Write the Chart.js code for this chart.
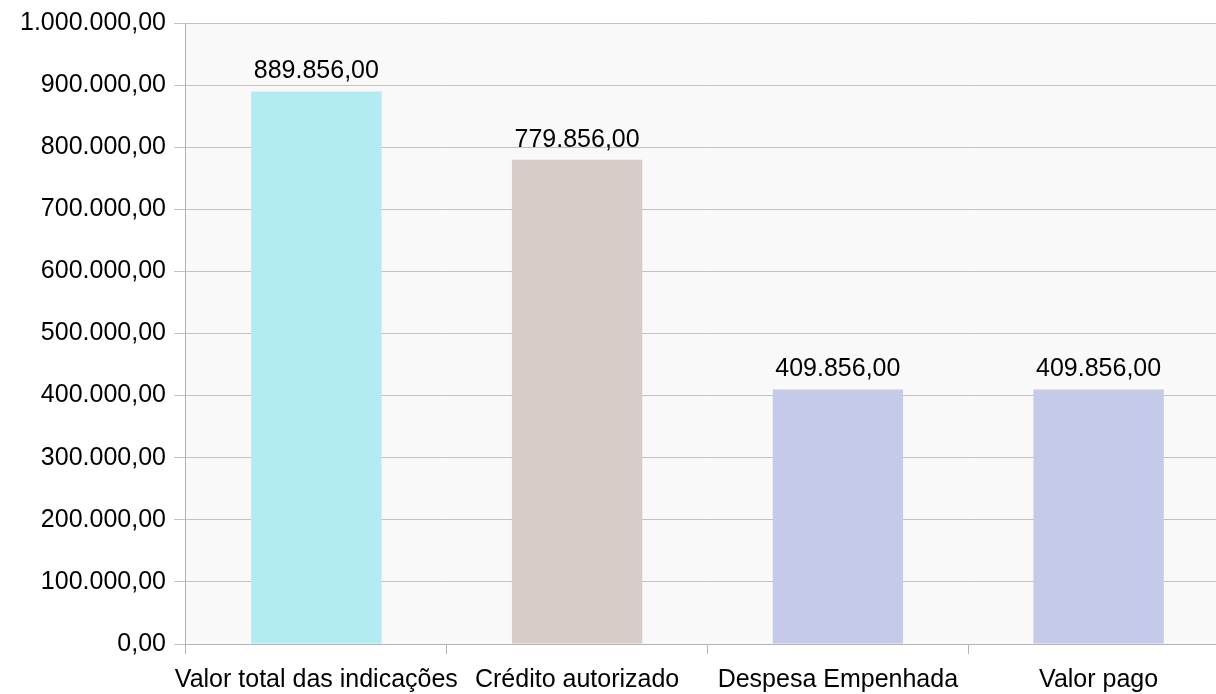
<!DOCTYPE html>
<html>
<head>
<meta charset="utf-8">
<script src="https://cdn.jsdelivr.net/npm/chart.js@4.4.0/dist/chart.umd.min.js"></script>
<style>
  html, body { margin: 0; padding: 0; background: #fff; overflow: hidden; }
  #wrap { position: relative; width: 1230px; height: 707px; }
</style>
</head>
<body>
<div id="wrap"><canvas id="grafico"></canvas></div>
<script>
var categorias = ['Valor total das indicações', 'Crédito autorizado', 'Despesa Empenhada', 'Valor pago'];
var valores = [889856, 779856, 409856, 409856];
var cores = ['#b2ebf2', '#d7ccc8', '#c5cae9', '#c5cae9'];
var eixoMin = 0;
var eixoMax = 1000000;
var eixoPasso = 100000;

// formato brasileiro: 889.856,00
function formatar(v) {
    var partes = Number(v).toFixed(2).split('.');
    var inteiro = partes[0].replace(/\B(?=(\d{3})+(?!\d))/g, '.');
    return inteiro + ',' + partes[1];
}

var fundo = {
    id: 'fundo',
    beforeDraw: function(chart) {
        var a = chart.chartArea;
        var ctx = chart.ctx;
        ctx.save();
        ctx.fillStyle = '#f9f9f9';
        ctx.fillRect(a.left, a.top, a.right - a.left, a.bottom - a.top);
        ctx.restore();
    }
};

var rotulos = {
    id: 'rotulos',
    afterDatasetsDraw: function(chart) {
        var ctx = chart.ctx;
        var meta = chart.getDatasetMeta(0);
        ctx.save();
        ctx.font = '25px "Liberation Sans", Arial, sans-serif';
        ctx.fillStyle = '#000';
        ctx.textAlign = 'center';
        ctx.textBaseline = 'alphabetic';
        meta.data.forEach(function(bar, i) {
            ctx.fillText(formatar(valores[i]), bar.x, bar.y - 13);
        });
        ctx.restore();
    }
};

Chart.defaults.font.family = '"Liberation Sans", Arial, sans-serif';
Chart.defaults.font.size = 25;
Chart.defaults.color = '#000';

var ctx = document.getElementById('grafico').getContext('2d');
var grafico = new Chart(ctx, {
    type: 'bar',
    data: {
        labels: categorias,
        datasets: [{
            data: valores,
            backgroundColor: cores,
            borderWidth: 0,
            categoryPercentage: 1,
            barPercentage: 0.5
        }]
    },
    options: {
        responsive: true,
        maintainAspectRatio: false,
        animation: false,
        layout: { padding: { left: 12, right: 1, top: 14, bottom: 0 } },
        plugins: {
            legend: { display: false },
            tooltip: { enabled: false }
        },
        scales: {
            x: {
                grid: {
                    offset: true,
                    drawOnChartArea: false,
                    drawTicks: true,
                    tickLength: 10,
                    color: '#b3b3b3'
                },
                border: { color: '#b3b3b3', width: 1 },
                ticks: {
                    autoSkip: false, maxRotation: 0, minRotation: 0, padding: 14,
                    font: { lineHeight: 1 }
                }
            },
            y: {
                min: eixoMin,
                max: eixoMax,
                grid: { color: '#c2c2c2', tickLength: 12 },
                border: { color: '#b3b3b3', width: 1 },
                ticks: {
                    stepSize: eixoPasso,
                    padding: 8,
                    callback: function(v) { return formatar(v); }
                }
            }
        }
    },
    plugins: [fundo, rotulos]
});
</script>
</body>
</html>
